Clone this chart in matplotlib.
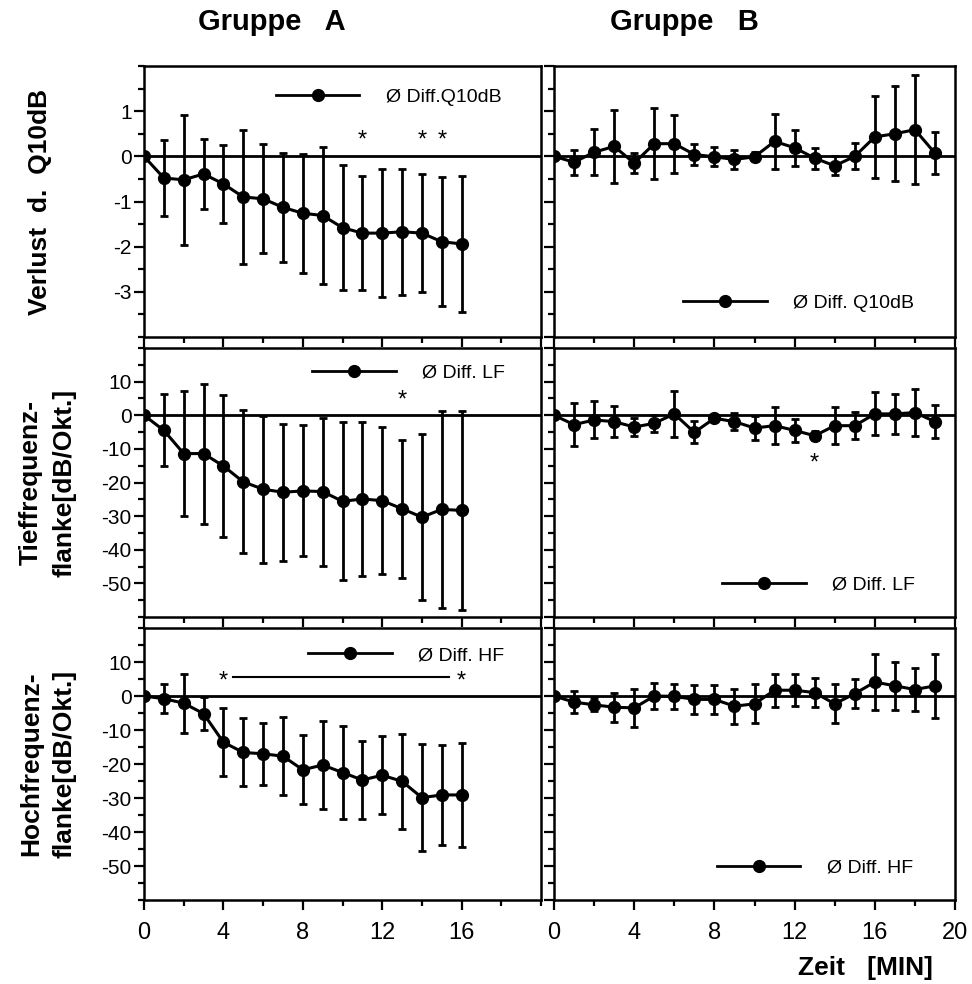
import numpy as np
import matplotlib
matplotlib.use("Agg")
import matplotlib.pyplot as plt
from matplotlib.lines import Line2D
from matplotlib.ticker import MultipleLocator, FixedLocator
from matplotlib import font_manager

# Zeitpunkte (Minuten)
zeit_A = list(range(17))
zeit_B = list(range(20))

# Verlust d. Q10dB (Mittelwert, Standardabweichung)
q10_A = [0, -0.48, -0.52, -0.39, -0.61, -0.90, -0.94, -1.13, -1.26, -1.31,
         -1.58, -1.70, -1.70, -1.67, -1.70, -1.89, -1.94]
q10_A_sd = [0, 0.85, 1.44, 0.78, 0.86, 1.49, 1.21, 1.20, 1.32, 1.52,
            1.39, 1.27, 1.42, 1.39, 1.30, 1.43, 1.50]
q10_B = [0, -0.13, 0.09, 0.22, -0.15, 0.28, 0.28, 0.04, -0.01, -0.07,
         -0.01, 0.33, 0.19, -0.04, -0.21, 0.0, 0.43, 0.50, 0.59, 0.07]
q10_B_sd = [0, 0.28, 0.51, 0.81, 0.22, 0.78, 0.64, 0.23, 0.21, 0.20,
            0.10, 0.60, 0.40, 0.23, 0.21, 0.29, 0.90, 1.05, 1.21, 0.46]

# Tieffrequenzflanke [dB/Okt.]
lf_A = [0, -4.5, -11.4, -11.4, -15.1, -19.8, -22.0, -22.9, -22.5, -22.7,
        -25.6, -24.9, -25.4, -27.8, -30.3, -28.0, -28.3]
lf_A_sd = [0, 10.7, 18.5, 20.8, 21.0, 21.3, 21.9, 20.3, 19.5, 22.0,
           23.5, 23.0, 21.8, 20.5, 24.7, 29.3, 29.7]
lf_B = [0, -2.8, -1.4, -1.9, -3.5, -2.4, 0.4, -5.1, -0.9, -1.9,
        -3.8, -3.1, -4.5, -6.1, -3.1, -3.1, 0.4, 0.4, 0.8, -1.9]
lf_B_sd = [0, 6.3, 5.5, 4.6, 2.7, 2.5, 6.9, 3.3, 0.8, 2.5,
           3.5, 5.5, 3.4, 1.3, 5.5, 4.0, 6.4, 6.0, 7.0, 4.9]

# Hochfrequenzflanke [dB/Okt.]
hf_A = [0, -0.8, -2.1, -5.2, -13.6, -16.6, -17.0, -17.7, -21.7, -20.3,
        -22.5, -24.7, -23.3, -25.1, -29.9, -29.1, -29.1]
hf_A_sd = [0, 4.3, 8.7, 4.8, 10.0, 10.0, 9.2, 11.5, 10.2, 13.0,
           13.6, 11.4, 11.4, 14.0, 15.8, 14.8, 15.4]
hf_B = [0, -1.8, -2.6, -3.3, -3.5, 0.0, -0.1, -1.0, -1.0, -3.0,
        -2.3, 1.7, 1.7, 1.0, -2.3, 0.7, 4.1, 3.0, 1.9, 3.0]
hf_B_sd = [0, 3.2, 1.9, 4.3, 5.7, 3.7, 3.7, 4.3, 4.3, 5.1,
           5.7, 4.9, 4.7, 4.3, 5.7, 4.3, 8.3, 7.0, 6.4, 9.5]

# Signifikanzen (Zeitpunkt, Hoehe)
sig_q10_A = ([11, 14, 15], 0.35)
sig_lf_A = ([13], 4.3)
sig_lf_B = ([13], -14.3)
sig_hf_A = ([4, 16], 4.4)
sig_hf_A_bar = (4.5, 15.35, 5.6)

titles = ["Gruppe   A", "Gruppe   B"]
ylabels = ["Verlust  d.  Q10dB", "Tieffrequenz-\nflanke[dB/Okt.]",
           "Hochfrequenz-\nflanke[dB/Okt.]"]
legend_texts = [["Ø Diff.Q10dB", "Ø Diff. Q10dB"],
                ["Ø Diff. LF", "Ø Diff. LF"],
                ["Ø Diff. HF", "Ø Diff. HF"]]

installed = {f.name for f in font_manager.fontManager.ttflist}
narrow = "Liberation Sans Narrow" if "Liberation Sans Narrow" in installed else "Liberation Sans"
plt.rcParams["font.family"] = ["Liberation Sans", "DejaVu Sans"]
plt.rcParams["axes.unicode_minus"] = False

fig = plt.figure(figsize=(9.72, 9.84), dpi=100)

W, H = 972, 984
cols = [(144, 541), (554, 955)]
rows = [(66, 337), (348, 617), (628, 900)]

ylims = [(-4, 2), (-60, 20), (-60, 20)]
ymajor = [1, 10, 10]
yminor = [0.5, 5, 5]
yticklabels = [[1, 0, -1, -2, -3], [10, 0, -10, -20, -30, -40, -50],
               [10, 0, -10, -20, -30, -40, -50]]

data = [[(zeit_A, q10_A, q10_A_sd), (zeit_B, q10_B, q10_B_sd)],
        [(zeit_A, lf_A, lf_A_sd), (zeit_B, lf_B, lf_B_sd)],
        [(zeit_A, hf_A, hf_A_sd), (zeit_B, hf_B, hf_B_sd)]]

# Position der Legende (Achsenbruchteile)
leg_pos = [[(0.332, 0.886), (0.322, 0.125)],
           [(0.423, 0.907), (0.419, 0.119)],
           [(0.413, 0.900), (0.406, 0.118)]]

axes = [[None, None] for _ in range(3)]
for r, (top, bot) in enumerate(rows):
    for c, (left, right) in enumerate(cols):
        ax = fig.add_axes([left / W, 1 - bot / H, (right - left) / W, (bot - top) / H])
        axes[r][c] = ax
        x, y, sd = data[r][c]
        ax.axhline(0, color="black", lw=2.0, zorder=1)
        ax.errorbar(x, y, yerr=sd, color="black", lw=2.2, elinewidth=2.0,
                    capsize=3.2, capthick=2.0, marker="o", markersize=8.5,
                    zorder=3)
        ax.set_xlim(0, 20)
        ax.set_ylim(*ylims[r])
        ax.xaxis.set_major_locator(MultipleLocator(4))
        ax.xaxis.set_minor_locator(MultipleLocator(2))
        ax.yaxis.set_major_locator(MultipleLocator(ymajor[r]))
        ax.yaxis.set_minor_locator(MultipleLocator(yminor[r]))
        for s in ax.spines.values():
            s.set_linewidth(1.8)
        ax.tick_params(which="both", direction="out", width=1.6,
                       top=False, right=False)
        ax.tick_params(which="major", length=7)
        ax.tick_params(which="minor", length=4.5)
        ax.tick_params(axis="x", labelsize=17, pad=9)
        ax.tick_params(axis="y", labelsize=15, pad=2)

        if c == 0:
            ax.set_yticks(yticklabels[r])
            ax.yaxis.set_minor_locator(MultipleLocator(yminor[r]))
        else:
            ax.set_yticklabels([])
        if r < 2:
            ax.set_xticklabels([])
        else:
            if c == 0:
                ax.set_xticks([0, 4, 8, 12, 16])
                ax.xaxis.set_minor_locator(FixedLocator([2, 6, 10, 14, 18, 20]))
            else:
                ax.set_xticks([0, 4, 8, 12, 16, 20])

        handle = Line2D([], [], color="black", lw=2.0, marker="o", markersize=8.5)
        ax.legend([handle], [legend_texts[r][c]], loc="center left",
                  bbox_to_anchor=leg_pos[r][c], frameon=False, fontsize=14,
                  handlelength=4.3, handletextpad=1.35, borderpad=0,
                  borderaxespad=0, numpoints=1)

# Signifikanzsterne
def sterne(ax, sig):
    xs, yv = sig
    for xv in xs:
        ax.text(xv, yv, "*", ha="center", va="center", fontsize=17)

sterne(axes[0][0], sig_q10_A)
sterne(axes[1][0], sig_lf_A)
sterne(axes[1][1], sig_lf_B)
sterne(axes[2][0], sig_hf_A)
x0, x1, yb = sig_hf_A_bar
axes[2][0].plot([x0, x1], [yb, yb], color="black", lw=1.5)

# Spaltentitel
title_x = [272, 684]
for c in range(2):
    fig.text(title_x[c] / W, 1 - 22 / H, titles[c], ha="center",
             va="center", fontsize=21, fontweight="bold")

# Achsenbeschriftungen links
ylab_x = [40 / W, 48 / W, 48 / W]
for r, (top, bot) in enumerate(rows):
    fig.text(ylab_x[r], 1 - (top + bot) / 2 / H, ylabels[r], rotation=90,
             ha="center", va="center", fontsize=19, fontweight="bold",
             family=[narrow, "DejaVu Sans"], linespacing=1.5,
             multialignment="center")

fig.text(865 / W, 1 - 968 / H, "Zeit   [MIN]", ha="center", va="center",
         fontsize=19, fontweight="bold")

fig.savefig("out.png", dpi=100)
